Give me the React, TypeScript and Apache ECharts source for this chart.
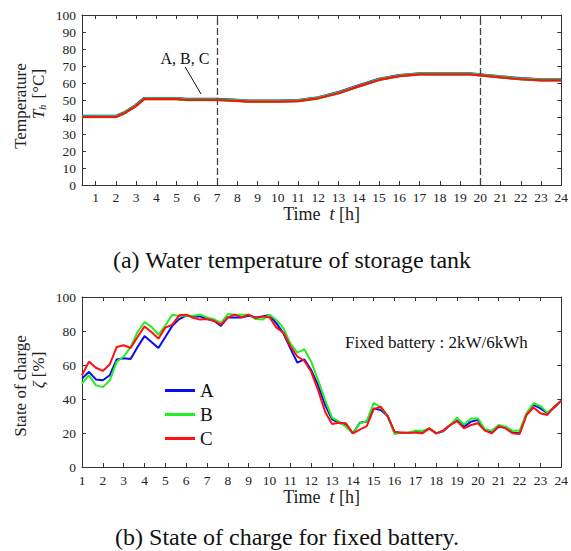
import React, { useEffect, useRef } from "react";
import * as echarts from "echarts";

const FONT = "Liberation Serif, Times New Roman, serif";

// ---- Top chart: water temperature of storage tank ----
const topHours = [1, 2, 3, 4, 5, 6, 7, 8, 9, 10, 11, 12, 13, 14, 15, 16, 17, 18, 19, 20, 21, 22, 23, 24];
const topTimes = [0.333, 2, 2.4, 3, 3.4, 5, 5.5, 7, 8, 8.5, 10, 11, 12, 13, 14, 15, 16, 17, 18, 19.5, 20, 21, 22, 23, 24];
const topA = [40.4, 40.4, 42.4, 46.9, 50.9, 50.9, 50.4, 50.4, 49.9, 49.4, 49.4, 49.7, 51.4, 54.4, 58.4, 62.2, 64.4, 65.5, 65.5, 65.5, 64.9, 63.7, 62.6, 61.9, 61.9];
const topB = [40.2, 40.2, 42.2, 46.7, 50.7, 50.7, 50.2, 50.2, 49.7, 49.2, 49.2, 49.5, 51.2, 54.2, 58.2, 62.0, 64.2, 65.3, 65.3, 65.3, 64.7, 63.5, 62.4, 61.7, 61.7];
const topC = [40.0, 40.0, 42.0, 46.5, 50.5, 50.5, 50.0, 50.0, 49.5, 49.0, 49.0, 49.3, 51.0, 54.0, 58.0, 61.8, 64.0, 65.1, 65.1, 65.1, 64.5, 63.3, 62.2, 61.5, 61.5];
const dashedHours = [7, 20];

// ---- Bottom chart: state of charge (20-minute steps from 1 h to 24 h) ----
const socA = [
  52, 56, 51.5,
  51, 54, 63.3,
  64, 63.5, 70.6,
  77, 73.5, 70,
  76.5, 83, 87,
  89, 88.6, 88.6,
  87, 86, 83,
  88, 88, 88,
  89, 88, 88.5,
  89.4, 84.5, 78.6,
  69.8, 61.4, 63.3,
  57, 48, 36.5,
  28, 26, 24.7,
  19.8, 26, 26.7,
  34.5, 33.5, 30,
  20.2, 20.2, 20,
  20.8, 20.8, 22.5,
  19.8, 21, 24.7,
  27.3, 23.7, 26.7,
  27.6, 21.8, 20.2,
  23.7, 23.3, 20.2,
  19.8, 31.2, 36.5,
  34.5, 31.6, 35,
  39,
];
const socB = [
  49, 54, 48,
  47, 51, 62,
  65, 70.5, 79.4,
  85.3, 82.4, 77.8,
  83.3, 89.6, 88.8,
  89, 89, 89.6,
  88, 87, 84.7,
  90, 89.6, 89.6,
  89.6, 87, 86.7,
  89.6, 86.5, 81.6,
  72.7, 67.3, 69.2,
  62, 51, 39.4,
  29, 26.7, 23.7,
  19.8, 25.7, 27,
  37.8, 35, 30,
  19.4, 20.2, 20.2,
  21.4, 21.2, 22.7,
  19.8, 21.4, 24.7,
  29, 25, 28.6,
  28.6, 22.2, 21.4,
  24.7, 23.7, 21.2,
  21.4, 31.6, 37.5,
  35.9, 32, 35.5,
  39,
];
const socC = [
  54, 62, 58.4,
  56.5, 60.4, 70.6,
  71.6, 70, 76.5,
  82.7, 79.4, 75.5,
  82, 83.7, 89.2,
  89.6, 87.8, 86.7,
  87, 86, 83.7,
  88, 89.6, 88,
  89.6, 87.6, 88.6,
  88, 82, 79,
  71, 65, 62.5,
  56, 45, 32.5,
  25.3, 26, 25.7,
  19.8, 22, 24,
  34, 35.5, 30,
  20.8, 20.2, 20.2,
  20.2, 19.8, 22.7,
  19.8, 21.4, 24.7,
  27, 22.7, 24.7,
  25.7, 21.4, 19.8,
  24, 22.7, 19.8,
  19.4, 30.6, 35,
  31.6, 30.6, 35.5,
  39,
];
const socTimes = socA.map((_, i) => 1 + i / 3);

const seriesNames = ["A", "B", "C"];
const colors = ["#0a0aee", "#22ee22", "#ff1010"];

const pairs = (xs: number[], ys: number[]) => ys.map((y, i) => [xs[i], y]);

export default function App() {
  const ref = useRef<HTMLDivElement>(null);
  useEffect(() => {
    document.body.style.margin = "0";
    if (!ref.current) return;
    const chart = echarts.init(ref.current, null, { renderer: "svg" });
    const axisColor = "#333";
    const tickLabel = { fontFamily: FONT, fontSize: 13.5, color: "#222" };
    const nameRich = {
      n: { fontFamily: FONT, fontSize: 18, color: "#222" },
      i: { fontFamily: FONT, fontSize: 18, color: "#222", fontStyle: "italic" },
    };
    const frameX = (grid: number, pos: string, extra: any) => ({
      gridIndex: grid,
      type: "value",
      position: pos,
      axisLine: { show: true, onZero: false, lineStyle: { color: axisColor, width: 1 } },
      axisTick: { show: true, inside: true, length: 4, lineStyle: { color: axisColor } },
      splitLine: { show: false },
      ...extra,
    });
    const option: any = {
      animation: false,
      backgroundColor: "#fff",
      grid: [
        { left: 82, top: 15, width: 485, height: 170 },
        { left: 82, top: 297, width: 485, height: 170 },
      ],
      xAxis: [
        frameX(0, "bottom", {
          min: 0.333,
          max: 24,
          axisTick: { show: true, inside: true, length: 4, lineStyle: { color: axisColor }, customValues: topHours },
          axisLabel: { ...tickLabel, margin: 5, customValues: topHours },
          name: "{n|Time  }{i|t}{n| [h]}",
          nameLocation: "middle",
          nameGap: 15,
          nameTextStyle: { rich: nameRich, verticalAlign: "top" },
        }),
        frameX(0, "top", {
          min: 0.333,
          max: 24,
          axisTick: { show: true, inside: true, length: 4, lineStyle: { color: axisColor }, customValues: topHours },
          axisLabel: { show: false },
        }),
        frameX(1, "bottom", {
          min: 1,
          max: 24,
          interval: 1,
          axisLabel: { ...tickLabel, margin: 6 },
          name: "{n|Time  }{i|t}{n| [h]}",
          nameLocation: "middle",
          nameGap: 21,
          nameTextStyle: { rich: nameRich, verticalAlign: "top" },
        }),
        frameX(1, "top", { min: 1, max: 24, interval: 1, axisLabel: { show: false } }),
      ],
      yAxis: [
        frameX(0, "left", { min: 0, max: 100, interval: 10, axisLabel: { ...tickLabel, margin: 6 } }),
        frameX(0, "right", { min: 0, max: 100, interval: 10, axisLabel: { show: false } }),
        frameX(1, "left", { min: 0, max: 100, interval: 20, axisLabel: { ...tickLabel, margin: 6 } }),
        frameX(1, "right", { min: 0, max: 100, interval: 20, axisLabel: { show: false } }),
      ],
      legend: {
        data: seriesNames,
        orient: "vertical",
        left: 160,
        top: 376,
        icon: "rect",
        itemWidth: 30,
        itemHeight: 3,
        itemGap: 5,
        textStyle: { fontFamily: FONT, fontSize: 19, color: "#111", lineHeight: 19 },
      },
      series: [
        ...[topA, topB, topC].map((vals, k) => ({
          name: seriesNames[k],
          type: "line",
          xAxisIndex: 0,
          yAxisIndex: 0,
          data: pairs(topTimes, vals),
          showSymbol: false,
          symbol: "none",
          color: colors[k],
          lineStyle: { color: colors[k], width: k === 2 ? 2.2 : 3 },
          z: 3 + k,
          markLine:
            k === 0
              ? {
                  silent: true,
                  symbol: "none",
                  label: { show: false },
                  lineStyle: { color: "#444", type: [7, 3], width: 1.3 },
                  data: dashedHours.map((h) => ({ xAxis: h })),
                }
              : k === 2
              ? {
                  silent: true,
                  symbol: ["none", "arrow"],
                  symbolSize: [0, 8],
                  label: { show: false },
                  lineStyle: { color: "#111", type: "solid", width: 1 },
                  data: [[{ coord: [5.43, 69.4] }, { coord: [6.21, 53.5] }]],
                }
              : undefined,
        })),
        ...[socA, socB, socC].map((vals, k) => ({
          name: seriesNames[k],
          type: "line",
          xAxisIndex: 2,
          yAxisIndex: 2,
          data: pairs(socTimes, vals),
          showSymbol: false,
          symbol: "none",
          color: colors[k],
          lineStyle: { color: colors[k], width: 2 },
          z: 3 + k,
        })),
      ],
      graphic: [
        {
          type: "text",
          x: 185,
          y: 58,
          style: { text: "A, B, C", font: `16px ${FONT}`, fill: "#111", align: "center", verticalAlign: "middle" },
        },
        {
          type: "text",
          x: 20,
          y: 106,
          rotation: Math.PI / 2,
          style: { text: "Temperature", font: `17px ${FONT}`, fill: "#222", align: "center", verticalAlign: "middle" },
        },
        {
          type: "text",
          x: 38,
          y: 94,
          rotation: Math.PI / 2,
          style: {
            text: "{i|T}{s|h}{n| [°C]}",
            align: "center",
            verticalAlign: "middle",
            rich: {
              i: { fontFamily: FONT, fontSize: 17, fontStyle: "italic", fill: "#222", color: "#222" },
              s: { fontFamily: FONT, fontSize: 10, fontStyle: "italic", fill: "#222", color: "#222", verticalAlign: "bottom", padding: [8, 2, 0, 0] },
              n: { fontFamily: FONT, fontSize: 17, fill: "#222", color: "#222" },
            },
          },
        },
        {
          type: "text",
          x: 20,
          y: 386,
          rotation: Math.PI / 2,
          style: { text: "State of charge", font: `17px ${FONT}`, fill: "#222", align: "center", verticalAlign: "middle" },
        },
        {
          type: "text",
          x: 38,
          y: 370,
          rotation: Math.PI / 2,
          style: {
            text: "{i|ζ}{n| [%]}",
            align: "center",
            verticalAlign: "middle",
            rich: {
              i: { fontFamily: FONT, fontSize: 17, fontStyle: "italic", fill: "#222", color: "#222" },
              n: { fontFamily: FONT, fontSize: 17, fill: "#222", color: "#222" },
            },
          },
        },
        {
          type: "text",
          x: 345,
          y: 342,
          style: { text: "Fixed battery : 2kW/6kWh", font: `17px ${FONT}`, fill: "#111", align: "left", verticalAlign: "middle" },
        },
        {
          type: "text",
          x: 292,
          y: 260,
          style: { text: "(a) Water temperature of storage tank", font: `24px ${FONT}`, fill: "#111", align: "center", verticalAlign: "middle" },
        },
        {
          type: "text",
          x: 287,
          y: 537,
          style: { text: "(b) State of charge for fixed battery.", font: `24px ${FONT}`, fill: "#111", align: "center", verticalAlign: "middle" },
        },
      ],
    };
    chart.setOption(option);
    return () => chart.dispose();
  }, []);
  return <div ref={ref} style={{ width: 571, height: 551 }} />;
}
